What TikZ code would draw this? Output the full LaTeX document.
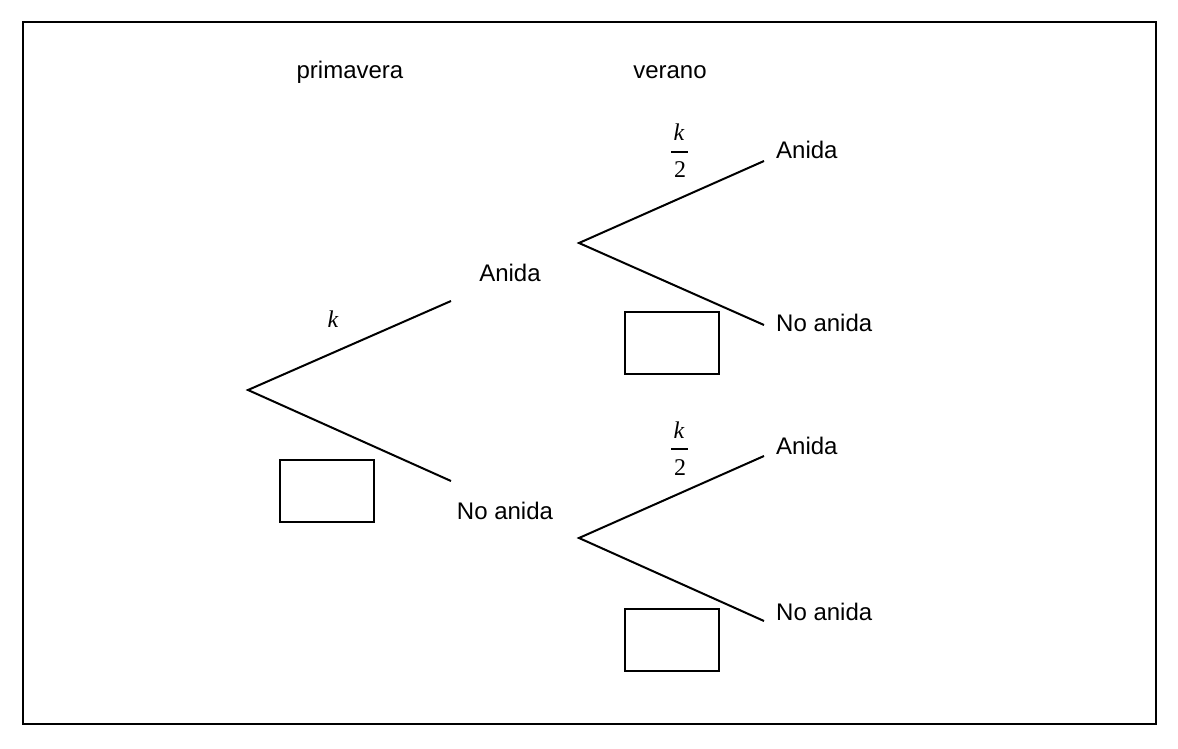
\documentclass[tikz,border=0pt]{standalone}
\usepackage{fontspec}
\setmainfont{Liberation Sans}
\newfontfamily\tms{Liberation Serif}
\begin{document}
\begin{tikzpicture}[x=1pt,y=-1pt,
  lbl/.style={font=\fontsize{24}{28}\selectfont, inner sep=0pt},
  mth/.style={font=\fontsize{24}{28}\selectfont\tms, inner sep=0pt},
  branch/.style={line width=2pt},
  blank/.style={draw, line width=2pt, minimum width=94pt, minimum height=62pt, inner sep=0pt},
  frame/.style={draw, line width=1.3pt}]
\useasboundingbox (0,0) rectangle (1178,749);
\draw[frame] (23,22) rectangle (1156,724);

% headers
\node[lbl, anchor=base] (hp) at (350,79) {primavera};
\node[lbl, anchor=base] (hv) at (670,79) {verano};

% first stage
\coordinate (r) at (248,390);
\coordinate (e1) at (451,301);
\coordinate (e2) at (451,481);
\draw[branch] (e1) -- (r) -- (e2);
\node[mth, anchor=base] (k1) at (333,327) {\itshape k};
\node[blank] (b1) at (327,491) {};
\node[lbl] (m1) at (510,273) {Anida};
\node[lbl] (m2) at (505,511) {No anida};

% second stage, upper
\coordinate (s1) at (579,243);
\coordinate (u1) at (764,161);
\coordinate (u2) at (764,325);
\draw[branch] (u1) -- (s1) -- (u2);
\node[mth, anchor=base] (f1k) at (679,141) {\itshape k};
\node[mth, anchor=base] (f1d) at (680,178) {2};
\draw[line width=1.5pt] (671,152) -- (688,152);
\node[blank] (b2) at (672,343) {};
\node[lbl, anchor=west] (t1) at (776,150) {Anida};
\node[lbl, anchor=west] (t2) at (776,323) {No anida};

% second stage, lower
\coordinate (s2) at (579,538);
\coordinate (w1) at (764,456);
\coordinate (w2) at (764,621);
\draw[branch] (w1) -- (s2) -- (w2);
\node[mth, anchor=base] (f2k) at (679,438) {\itshape k};
\node[mth, anchor=base] (f2d) at (680,475) {2};
\draw[line width=1.5pt] (671,449) -- (688,449);
\node[blank] (b3) at (672,640) {};
\node[lbl, anchor=west] (t3) at (776,446) {Anida};
\node[lbl, anchor=west] (t4) at (776,612) {No anida};
\end{tikzpicture}
\end{document}
